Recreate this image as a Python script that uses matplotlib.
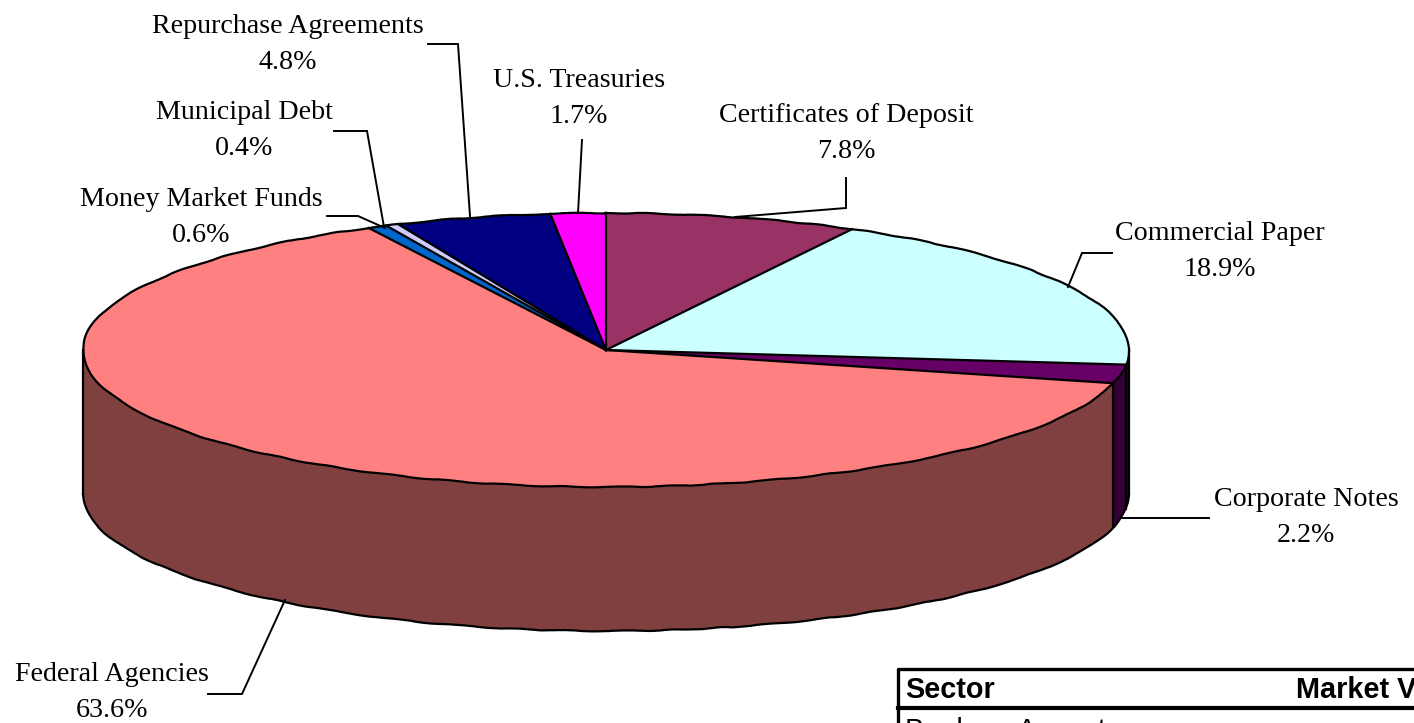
import numpy as np
import matplotlib
matplotlib.use("Agg")
import matplotlib.pyplot as plt

# sectors, clockwise from the top of the pie
sectors = ["Certificates of Deposit", "Commercial Paper", "Corporate Notes", "Federal Agencies",
           "Money Market Funds", "Municipal Debt", "Repurchase Agreements", "U.S. Treasuries"]
values = [7.8, 18.9, 2.2, 63.6, 0.6, 0.4, 4.8, 1.7]
colors = ["#993366", "#CCFFFF", "#660066", "#FF8080", "#0066CC", "#CCCCFF", "#000080", "#FF00FF"]
wall_colors = ["#4D1A33", "#001A1A", "#330033", "#804040", "#003366", "#666680", "#000040", "#800080"]

table_headers = ["Sector", "Market Value"]
table_first_row = "Bankers Acceptance"

W, H = 1414, 723
cx, cy, rx, ry, depth = 606, 350, 523, 137, 144
LW = 1.6

fig = plt.figure(figsize=(W / 100, H / 100), dpi=100)

# pie axes: one data unit is one radius, so the axes squash the circle to an ellipse
ax_pie = fig.add_axes([0, 0, 1, 1])
ax_pie.pie(values, colors=colors, startangle=90, counterclock=False,
           wedgeprops={"edgecolor": "none", "zorder": 2})
ax_pie.set_aspect("auto")
ax_pie.set_xlim(-cx / rx, (W - cx) / rx)
ax_pie.set_ylim(-(H - cy) / ry, cy / ry)

edges = np.cumsum([0] + values) * 3.6
d = depth / ry


def rim(a0, a1, shift=0.0, z=4):
    # the source drew its rim as a slightly shaky polyline
    t = np.radians(np.linspace(a0, a1, 200))
    line, = ax_pie.plot(np.sin(t), np.cos(t) - shift, color="black", lw=LW, zorder=z)
    line.set_sketch_params(scale=0.45, length=90, randomness=6)


# side wall of the pie, only the front half shows
for i in range(len(values)):
    a0, a1 = max(edges[i], 90), min(edges[i + 1], 270)
    if a1 <= a0:
        continue
    t = np.radians(np.linspace(a0, a1, 80))
    xs = np.r_[np.sin(t), np.sin(t[::-1])]
    ys = np.r_[np.cos(t), np.cos(t[::-1]) - d]
    ax_pie.fill(xs, ys, facecolor=wall_colors[i], edgecolor="none", zorder=1)
    a = np.radians(a1)
    ax_pie.plot([np.sin(a), np.sin(a)], [np.cos(a), np.cos(a) - d], color="black", lw=LW, zorder=3)
ax_pie.plot([1, 1], [0, -d], color="black", lw=LW, zorder=3)
rim(90, 270, shift=d, z=3)

# slice borders and top rim
for e in edges[:-1]:
    a = np.radians(e)
    ax_pie.plot([0, np.sin(a)], [0, np.cos(a)], color="black", lw=LW, zorder=3)
rim(0, 360)

# overlay in pixel coordinates for labels, leaders and the table
ax = fig.add_axes([0, 0, 1, 1])
ax.set_xlim(0, W)
ax.set_ylim(H, 0)
ax.axis("off")
ax.patch.set_alpha(0)

label_pos = {
    "Repurchase Agreements": (288, 44.5),
    "U.S. Treasuries": (579, 98.5),
    "Certificates of Deposit": (846, 133.5),
    "Commercial Paper": (1220, 251.5),
    "Municipal Debt": (244, 130.5),
    "Money Market Funds": (201, 217.5),
    "Corporate Notes": (1306, 517.5),
    "Federal Agencies": (112, 692.5),
}
leaders = {
    "Repurchase Agreements": ([428, 458, 470], [44, 44, 216]),
    "U.S. Treasuries": ([582, 578], [140, 213]),
    "Certificates of Deposit": ([846, 846, 735], [178, 208, 217]),
    "Commercial Paper": ([1112, 1082, 1068], [253, 253, 287]),
    "Municipal Debt": ([334, 367, 384], [131, 131, 227]),
    "Money Market Funds": ([327, 358, 385], [216, 216, 228]),
    "Corporate Notes": ([1209, 1121], [518, 518]),
    "Federal Agencies": ([208, 242, 285], [694, 694, 600]),
}
for name, val in zip(sectors, values):
    x, y = label_pos[name]
    ax.text(x, y, f"{name}\n{val}%", ha="center", va="center", family="Liberation Serif",
            fontsize=20.2, linespacing=1.55, color="black")
    ax.plot(*leaders[name], color="black", lw=1.4, solid_joinstyle="miter")

# table, cut off by the page edge in the source
ax.plot([W, 898, 898], [669, 669, H], color="black", lw=2.4)
ax.plot([898, W], [708, 708], color="black", lw=3.0)
ax.text(905, 698, table_headers[0], family="Liberation Sans", weight="bold", fontsize=20.8, va="baseline")
ax.text(1296, 698, table_headers[1], family="Liberation Sans", weight="bold", fontsize=20.8, va="baseline")
ax.text(905, 739, table_first_row, family="Liberation Sans", fontsize=20.8, va="baseline", clip_on=False)

fig.savefig("out.png", dpi=100, facecolor="white")
